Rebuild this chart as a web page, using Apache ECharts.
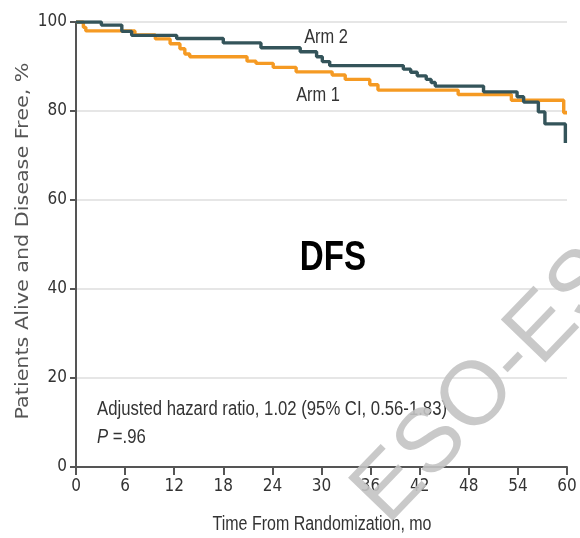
<!DOCTYPE html>
<html><head><meta charset="utf-8">
<script src="https://cdn.jsdelivr.net/npm/echarts@6/dist/echarts.min.js"></script>
<style>html,body{margin:0;padding:0;background:#fff}#c{width:580px;height:538px}</style>
</head><body><div id="c"></div>
<script>
// ---- data ----
const xTicks = [0, 6, 12, 18, 24, 30, 36, 42, 48, 54, 60];
const yTicks = [0, 20, 40, 60, 80, 100];
// Arm 1 (orange): time (mo) at which the survival value becomes the listed value
const arm1Times  = [0, 0.9, 1.2, 7.2, 9.7, 11.5, 12.7, 13.3, 13.9, 20.9, 22.0, 24.1, 26.9, 31.3, 32.9, 35.9, 36.9, 46.7, 53.2, 59.6, 60];
const arm1Values = [100, 98.8, 98.0, 97.1, 96.2, 95.1, 94.0, 92.8, 92.2, 91.2, 90.7, 89.8, 88.8, 88.1, 87.1, 85.9, 84.7, 83.7, 82.4, 79.6, 79.6];
// Arm 2 (dark teal)
const arm2Times  = [0, 3.1, 5.6, 6.8, 12.3, 18.0, 22.6, 27.4, 29.4, 30.1, 31.0, 40.0, 40.9, 41.7, 42.8, 43.4, 43.9, 49.8, 53.9, 54.7, 56.5, 57.3, 59.8];
const arm2Values = [100, 99.3, 97.9, 97.0, 96.3, 95.3, 94.2, 93.3, 92.2, 91.1, 90.2, 89.4, 88.7, 87.9, 87.1, 86.4, 85.6, 84.3, 83.2, 82.0, 79.8, 77.1, 72.8];
const seriesNames = ['Arm 1', 'Arm 2'];
const titleText = 'DFS';
const xTitle = 'Time From Randomization, mo';
const yTitle = 'Patients Alive and Disease Free, %';
const noteLine1 = 'Adjusted hazard ratio, 1.02 (95% CI, 0.56-1.83)';
const noteP = '.96';
const watermark = 'ESO-ESO';

const COND = "'DejaVu Sans Condensed', 'Liberation Sans Narrow', sans-serif";
const ARIAL = "'Liberation Sans', Arial, sans-serif";
const pair = (ts, vs) => ts.map((t, i) => [t, vs[i]]);

const chart = echarts.init(document.getElementById('c'), null, {renderer: 'canvas'});
chart.setOption({
  animation: false,
  backgroundColor: '#fff',
  grid: {left: 76, right: 13, top: 22, bottom: 71, containLabel: false},
  xAxis: {
    type: 'value', min: 0, max: 60, interval: 6,
    axisLine: {show: true, onZero: false, lineStyle: {color: '#555', width: 2}},
    axisTick: {show: true, length: 8, lineStyle: {color: '#555', width: 2}},
    axisLabel: {fontFamily: COND, fontSize: 17, color: '#333', margin: 11,
      formatter: v => xTicks.includes(v) ? String(v) : ''},
    splitLine: {show: false}
  },
  yAxis: {
    type: 'value', min: 0, max: 100, interval: 20,
    axisLine: {show: true, lineStyle: {color: '#555', width: 2}},
    axisTick: {show: true, length: 6, lineStyle: {color: '#555', width: 2}},
    axisLabel: {fontFamily: COND, fontSize: 17, color: '#333', margin: 9,
      formatter: v => yTicks.includes(v) ? String(v) : ''},
    splitLine: {show: true, lineStyle: {color: '#dedede', width: 1.5}}
  },
  series: [
    {name: seriesNames[0], type: 'line', step: 'end', showSymbol: false, symbol: 'none',
     data: pair(arm1Times, arm1Values), lineStyle: {color: '#f59a23', width: 3.4}, z: 2},
    {name: seriesNames[1], type: 'line', step: 'end', showSymbol: false, symbol: 'none',
     data: pair(arm2Times, arm2Values), lineStyle: {color: '#34545a', width: 3.4}, z: 3}
  ],
  graphic: [
    {type: 'text', x: 326, y: 37, z: 10, scaleX: 0.82, style: {text: seriesNames[1], font: "20px " + ARIAL, fill: '#333', textAlign: 'center', textVerticalAlign: 'middle'}},
    {type: 'text', x: 318, y: 95, z: 10, scaleX: 0.82, style: {text: seriesNames[0], font: "20px " + ARIAL, fill: '#333', textAlign: 'center', textVerticalAlign: 'middle'}},
    {type: 'text', x: 333, y: 258, z: 10, scaleX: 0.79, style: {text: titleText, font: "bold 42px " + ARIAL, fill: '#000', textAlign: 'center', textVerticalAlign: 'middle'}},
    {type: 'text', x: 97, y: 409, z: 10, scaleX: 0.835, style: {text: noteLine1, font: "20px " + ARIAL, fill: '#333', textAlign: 'left', textVerticalAlign: 'middle'}},
    {type: 'text', x: 97, y: 437, z: 10, scaleX: 0.835, style: {
      text: '{i|P} =' + noteP, textAlign: 'left', textVerticalAlign: 'middle', fill: '#333', font: "20px " + ARIAL,
      rich: {i: {fontStyle: 'italic', fontFamily: ARIAL, fontSize: 20, fill: '#333'}}}},
    {type: 'text', x: 322, y: 524, z: 10, scaleX: 0.80, style: {text: xTitle, font: "20px " + ARIAL, fill: '#333', textAlign: 'center', textVerticalAlign: 'middle'}},
    {type: 'text', x: 23, y: 241, z: 10, rotation: Math.PI / 2, scaleX: 1.15, style: {text: yTitle, font: "18px 'DejaVu Sans', sans-serif", fill: '#555', textAlign: 'center', textVerticalAlign: 'middle'}},
    {type: 'text', x: 402, y: 540, z: 20, rotation: 46 * Math.PI / 180,
     style: {text: watermark, font: "90px 'Liberation Sans', sans-serif", fill: 'rgba(195,195,195,0.9)', textAlign: 'left', textVerticalAlign: 'bottom'}}
  ]
});
</script>
</body></html>
